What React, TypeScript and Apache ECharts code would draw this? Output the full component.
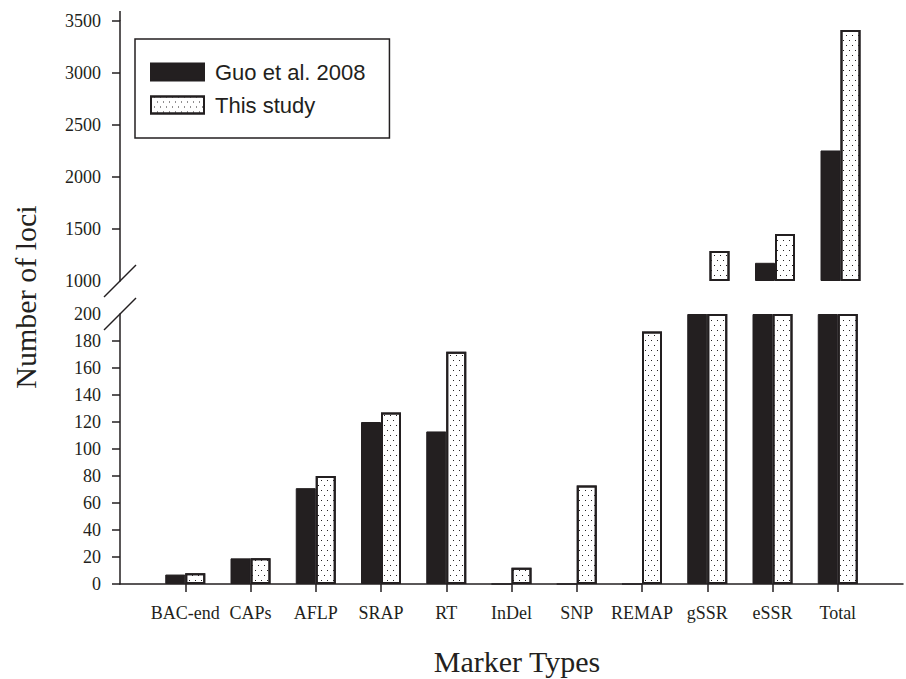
import { useEffect, useRef } from 'react';
import * as echarts from 'echarts';

const categories = ['BAC-end', 'CAPs', 'AFLP', 'SRAP', 'RT', 'InDel', 'SNP', 'REMAP', 'gSSR', 'eSSR', 'Total'];
const guo2008 = [7, 19, 71, 120, 113, 0, 0, 0, 750, 1175, 2255];
const thisStudy = [8, 19, 80, 127, 172, 12, 73, 187, 1288, 1452, 3414];
const lowerTicks = [0, 20, 40, 60, 80, 100, 120, 140, 160, 180, 200];
const upperTicks = [1000, 1500, 2000, 2500, 3000, 3500];
const seriesNames = ['Guo et al. 2008', 'This study'];

const LOWER_MAX = 200;
const UPPER_MIN = 1000;
const UPPER_MAX = 3500;

const INK = '#231f20';
const SERIF = '"Liberation Serif", "Times New Roman", serif';
const SANS = '"Liberation Sans", Arial, sans-serif';

export default function App() {
  const ref = useRef<HTMLDivElement>(null);
  useEffect(() => {
    document.body.style.margin = '0';
    const chart = echarts.init(ref.current as HTMLDivElement, null, { renderer: 'svg' });
    const padded = ['', ...categories, ''];
    const lowerData = (arr: number[]) => ['-', ...arr.map((v) => Math.min(v, LOWER_MAX)), '-'];
    const upperData = (arr: number[]) => ['-', ...arr.map((v) => (v > UPPER_MIN ? v : '-')), '-'];

    const dots: any = {
      symbol: 'rect',
      symbolSize: 1,
      dashArrayX: [[1, 5], [0, 3, 1, 2]],
      dashArrayY: [1, 4],
      rotation: 0,
      color: INK,
      backgroundColor: '#ffffff',
    };
    const blackStyle = { color: INK, borderColor: INK, borderWidth: 1 };
    const dotStyle = { color: '#ffffff', borderColor: INK, borderWidth: 2, decal: dots };

    const xAxisBase = {
      type: 'category',
      data: padded,
      boundaryGap: false,
    };
    const plain = (v: number) => String(v);

    chart.setOption({
      animation: false,
      backgroundColor: '#ffffff',
      legend: {
        orient: 'vertical',
        left: 135,
        top: 39,
        padding: [22, 24, 22, 15],
        itemWidth: 53,
        itemHeight: 17,
        itemGap: 11,
        icon: 'rect',
        borderColor: INK,
        borderWidth: 1.5,
        textStyle: { fontFamily: SANS, fontSize: 22, color: INK, padding: [0, 0, 0, 6] },
        data: seriesNames,
      },
      grid: [
        { left: 120, top: 21, width: 797, height: 260 },
        { left: 120, top: 314, width: 797, height: 270 },
      ],
      xAxis: [
        { ...xAxisBase, gridIndex: 0, show: false },
        {
          ...xAxisBase,
          gridIndex: 1,
          axisLine: { lineStyle: { color: INK, width: 1.5 } },
          axisTick: {
            length: 8,
            lineStyle: { color: INK, width: 1.5 },
            interval: (i: number) => i > 0 && i < padded.length - 1,
          },
          axisLabel: { interval: 0, margin: 20, fontFamily: SERIF, fontSize: 18, color: INK },
        },
      ],
      yAxis: [
        {
          type: 'value',
          gridIndex: 0,
          min: UPPER_MIN,
          max: UPPER_MAX,
          interval: 500,
          startValue: UPPER_MIN,
          splitLine: { show: false },
          axisLine: { show: true, lineStyle: { color: INK, width: 1.5 } },
          axisTick: { show: true, length: 8, lineStyle: { color: INK, width: 1.5 }, customValues: upperTicks.slice(1) },
          axisLabel: { margin: 19, fontFamily: SERIF, fontSize: 18, color: INK, customValues: upperTicks, formatter: plain },
        },
        {
          type: 'value',
          gridIndex: 1,
          min: 0,
          max: LOWER_MAX,
          interval: 20,
          splitLine: { show: false },
          axisLine: { show: true, lineStyle: { color: INK, width: 1.5 } },
          axisTick: { show: true, length: 8, lineStyle: { color: INK, width: 1.5 }, customValues: lowerTicks.slice(0, -1) },
          axisLabel: { margin: 19, fontFamily: SERIF, fontSize: 18, color: INK, customValues: lowerTicks, formatter: plain },
        },
      ],
      series: [
        {
          name: seriesNames[0], type: 'bar', xAxisIndex: 1, yAxisIndex: 1,
          barWidth: 20, barGap: '0%', data: lowerData(guo2008), itemStyle: blackStyle,
        },
        {
          name: seriesNames[1], type: 'bar', xAxisIndex: 1, yAxisIndex: 1,
          barWidth: 20, barGap: '0%', data: lowerData(thisStudy), itemStyle: dotStyle,
        },
        {
          name: seriesNames[0], type: 'bar', xAxisIndex: 0, yAxisIndex: 0,
          barWidth: 20, barGap: '0%', data: upperData(guo2008), itemStyle: blackStyle,
        },
        {
          name: seriesNames[1], type: 'bar', xAxisIndex: 0, yAxisIndex: 0,
          barWidth: 20, barGap: '0%', data: upperData(thisStudy), itemStyle: dotStyle,
        },
      ],
      graphic: [
        { type: 'line', shape: { x1: 120, y1: 11, x2: 120, y2: 21 }, style: { stroke: INK, lineWidth: 1.5 } },
        { type: 'line', shape: { x1: 104, y1: 297, x2: 136, y2: 265 }, style: { stroke: INK, lineWidth: 1.5 } },
        { type: 'line', shape: { x1: 104, y1: 330, x2: 136, y2: 298 }, style: { stroke: INK, lineWidth: 1.5 } },
        {
          type: 'text', x: 25, y: 297, rotation: Math.PI / 2,
          style: { text: 'Number of loci', fontFamily: SERIF, fontSize: 30, fill: INK, textAlign: 'center', textVerticalAlign: 'middle' },
        },
        {
          type: 'text', x: 517, y: 661,
          style: { text: 'Marker Types', fontFamily: SERIF, fontSize: 30, fill: INK, textAlign: 'center', textVerticalAlign: 'middle' },
        },
      ],
    });
    return () => chart.dispose();
  }, []);
  return <div ref={ref} style={{ width: 906, height: 679 }} />;
}
